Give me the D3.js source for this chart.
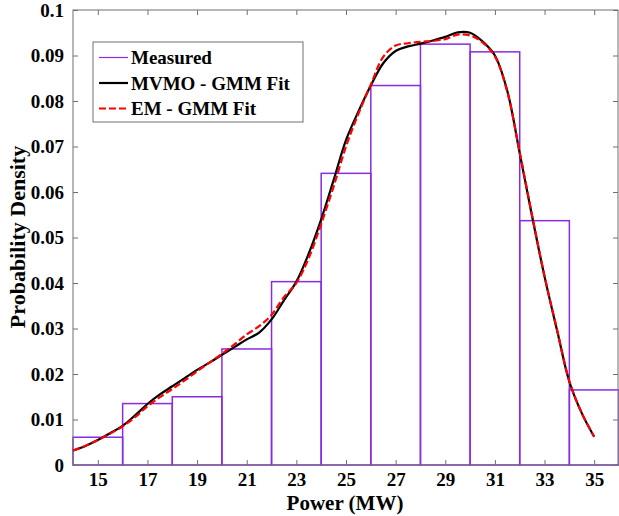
<!DOCTYPE html>
<html>
<head>
<meta charset="utf-8">
<script src="https://cdn.jsdelivr.net/npm/d3@7"></script>
<style>
  body { margin: 0; background: #fff; }
  text { font-family: "Liberation Serif", "Times New Roman", serif; font-weight: bold; }
</style>
</head>
<body>
<script>
// histogram bins (MW) and measured density
const binEdges = [14, 16, 18, 20, 22, 24, 26, 28, 30, 32, 34, 36]
const measured = [0.0061, 0.0135, 0.0150, 0.0255, 0.0403, 0.0641, 0.0834, 0.0925, 0.0908, 0.0537, 0.0165]

// fitted curves
const power = [14, 14.5, 15, 15.5, 16, 16.5, 17, 17.5, 18, 18.5, 19, 19.5, 20, 20.5, 21, 21.5,
  22, 22.5, 23, 23.5, 24, 24.5, 25, 25.5, 26, 26.5, 27, 27.5, 28, 28.5, 29, 29.5, 30, 30.5,
  31, 31.5, 32, 32.5, 33, 33.5, 34, 34.5, 35]
const mvmo = [0.0032, 0.0042, 0.0055, 0.0070, 0.0086, 0.0109, 0.0134, 0.0155, 0.0173, 0.0191, 0.0209, 0.0225,
  0.0242, 0.0259, 0.0276, 0.0291, 0.0320, 0.0362, 0.0403, 0.0465, 0.0540, 0.0626, 0.0714, 0.0777,
  0.0834, 0.0883, 0.0910, 0.0920, 0.0926, 0.0933, 0.0941, 0.0951, 0.0950, 0.0931, 0.0900, 0.0822,
  0.0685, 0.0546, 0.0414, 0.0297, 0.0183, 0.0114, 0.0062]
const em = [0.0032, 0.0042, 0.0055, 0.0069, 0.0085, 0.0105, 0.0129, 0.0149, 0.0167, 0.0186, 0.0206, 0.0225,
  0.0244, 0.0265, 0.0287, 0.0305, 0.0330, 0.0369, 0.0400, 0.0455, 0.0530, 0.0612, 0.0700, 0.0772,
  0.0836, 0.0897, 0.0922, 0.0927, 0.0930, 0.0932, 0.0936, 0.0946, 0.0944, 0.0929, 0.0898, 0.0820,
  0.0687, 0.0548, 0.0415, 0.0298, 0.0184, 0.0114, 0.0062]

const xTicks = d3.range(15, 36, 2)
const yTicks = d3.range(0, 0.1001, 0.01)

var config = {
  width: 619,
  height: 516,
  left: 73,
  right: 619,
  top: 10,
  bottom: 465,
  purple: '#8a2be2',
  axis: '#707070',
}

var svg = d3.select('body').append('svg')
  .attr('width', config.width)
  .attr('height', config.height)

var x = d3.scaleLinear().domain([14, 36]).range([config.left, config.right])
var y = d3.scaleLinear().domain([0, 0.1]).range([config.bottom, config.top])

// bars
svg.append('g').selectAll('rect')
  .data(measured)
  .join('rect')
  .attr('x', (d, i) => x(binEdges[i]))
  .attr('y', d => y(d))
  .attr('width', (d, i) => x(binEdges[i + 1]) - x(binEdges[i]))
  .attr('height', d => y(0) - y(d))
  .attr('fill', 'none')
  .attr('stroke', config.purple)
  .attr('stroke-width', 1.5)

// axes, ticks inward on all four sides
const fmtY = d => d === 0 ? '0' : d3.format('.2~f')(d)

const styleAxis = g => {
  g.select('.domain').remove()
  g.selectAll('.tick line').attr('stroke', config.axis)
  g.selectAll('.tick text').attr('fill', '#000')
    .style('font-size', '19px').style('font-weight', 'bold')
}

svg.append('g')
  .attr('transform', `translate(0,${config.bottom})`)
  .call(d3.axisBottom(x).tickValues(xTicks).tickSizeInner(-5).tickSizeOuter(0).tickPadding(8))
  .call(styleAxis)

svg.append('g')
  .attr('transform', `translate(0,${config.top})`)
  .call(d3.axisTop(x).tickValues(xTicks).tickSizeInner(-5).tickSizeOuter(0).tickFormat(''))
  .call(styleAxis)

svg.append('g')
  .attr('transform', `translate(${config.left},0)`)
  .call(d3.axisLeft(y).tickValues(yTicks).tickSizeInner(-5).tickSizeOuter(0).tickPadding(9).tickFormat(fmtY))
  .call(styleAxis)

svg.append('g')
  .attr('transform', `translate(${config.right - 1},0)`)
  .call(d3.axisRight(y).tickValues(yTicks).tickSizeInner(-5).tickSizeOuter(0).tickFormat(''))
  .call(styleAxis)

svg.append('rect')
  .attr('x', config.left).attr('y', config.top)
  .attr('width', config.right - config.left - 1)
  .attr('height', config.bottom - config.top)
  .attr('fill', 'none')
  .attr('stroke', config.axis)
  .attr('stroke-width', 1)

// fitted curves
var line = d3.line()
  .x((d, i) => x(power[i]))
  .y(d => y(d))
  .curve(d3.curveCatmullRom)

svg.append('path')
  .attr('d', line(mvmo))
  .attr('fill', 'none')
  .attr('stroke', '#000')
  .attr('stroke-width', 2.2)

svg.append('path')
  .attr('d', line(em))
  .attr('fill', 'none')
  .attr('stroke', '#ff0000')
  .attr('stroke-width', 2.2)
  .attr('stroke-dasharray', '7,3')

// axis labels
svg.append('text')
  .attr('x', 345).attr('y', 510)
  .attr('text-anchor', 'middle')
  .style('font-size', '21px')
  .text('Power (MW)')

svg.append('text')
  .attr('transform', 'translate(25,237) rotate(-90)')
  .attr('text-anchor', 'middle')
  .style('font-size', '22px')
  .text('Probability Density')

// legend
var legendItems = [
  {label: 'Measured', color: config.purple, width: 1.2, dash: null},
  {label: 'MVMO - GMM Fit', color: '#000', width: 2.2, dash: null},
  {label: 'EM - GMM Fit', color: '#ff0000', width: 2.2, dash: '7,3'},
]

var legend = svg.append('g').attr('transform', 'translate(93,42)')

legend.append('rect')
  .attr('width', 210).attr('height', 80)
  .attr('fill', '#fff')
  .attr('stroke', config.axis)

legendItems.forEach((d, i) => {
  let cy = 15.5 + i * 25.5
  legend.append('line')
    .attr('x1', 6).attr('x2', 35)
    .attr('y1', cy).attr('y2', cy)
    .attr('stroke', d.color)
    .attr('stroke-width', d.width)
    .attr('stroke-dasharray', d.dash)
  legend.append('text')
    .attr('x', 38).attr('y', cy + 6.5)
    .style('font-size', '19px')
    .text(d.label)
})
</script>
</body>
</html>
